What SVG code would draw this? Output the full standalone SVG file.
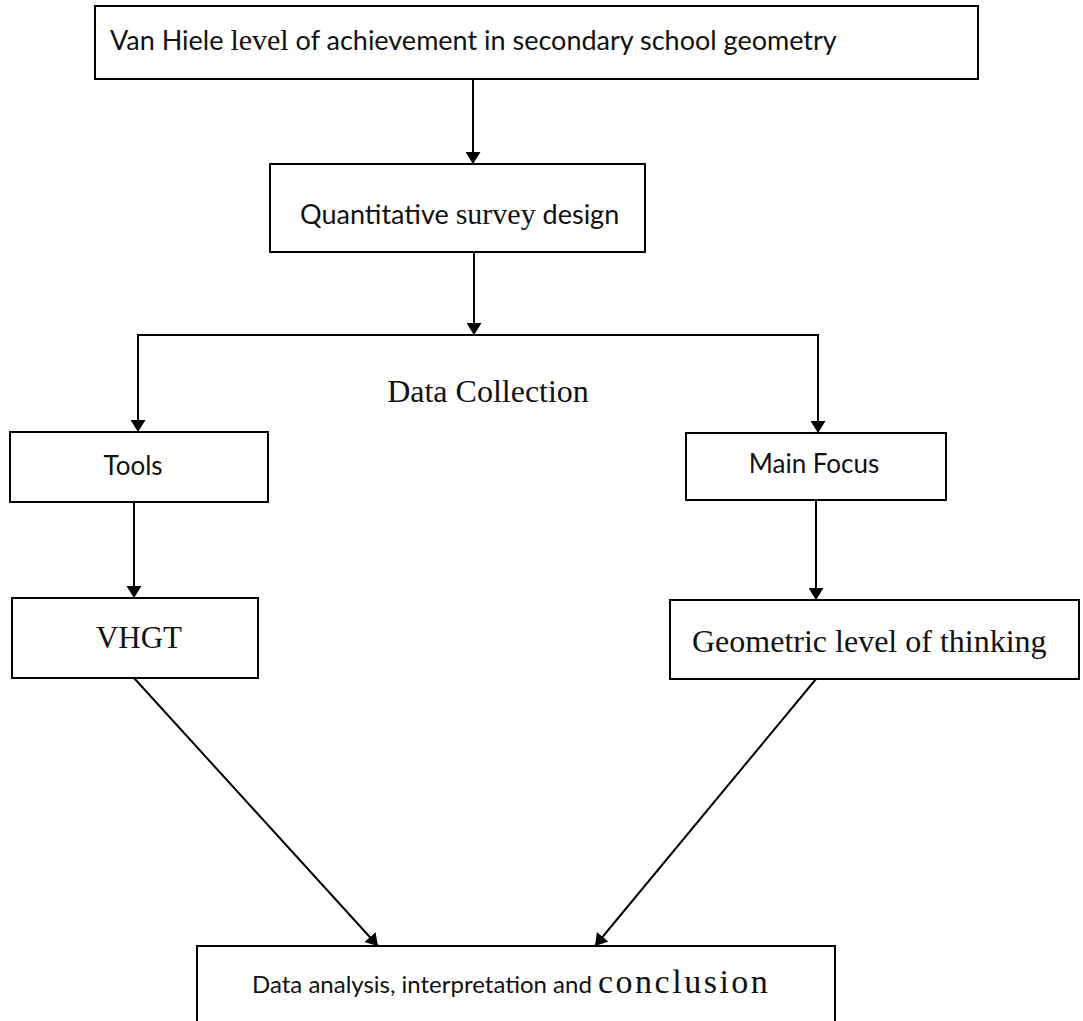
<svg xmlns="http://www.w3.org/2000/svg" width="1083" height="1021" viewBox="0 0 1083 1021">
<defs>
<marker id="ah" viewBox="0 0 12 15" refX="12" refY="7.5" markerWidth="12" markerHeight="15" markerUnits="userSpaceOnUse" orient="auto">
<path d="M0,0 L12,7.5 L0,15 Z" fill="#000"/>
</marker>
<style>
.box{fill:#fff;stroke:#000;stroke-width:2}
.sans{font-family:Lato,"Liberation Sans",sans-serif;font-size:26px;fill:#111}
.serif{font-family:"Liberation Serif",serif;font-size:32px;fill:#111}
.ser{font-family:"Liberation Serif",serif}
.con{fill:none;stroke:#000;stroke-width:2}
</style>
</defs>
<rect width="1083" height="1021" fill="#fff"/>
<g id="connectors">
<line class="con" x1="473" y1="79" x2="473" y2="164" marker-end="url(#ah)"/>
<line class="con" x1="474" y1="252" x2="474" y2="335" marker-end="url(#ah)"/>
<polyline class="con" points="138,432 138,335 818,335 818,433"/>
<line class="con" x1="138" y1="420" x2="138" y2="432" marker-end="url(#ah)"/>
<line class="con" x1="818" y1="420" x2="818" y2="433" marker-end="url(#ah)"/>
<line class="con" x1="134" y1="502" x2="134" y2="598" marker-end="url(#ah)"/>
<line class="con" x1="816" y1="500" x2="816" y2="600" marker-end="url(#ah)"/>
<line class="con" x1="134" y1="678" x2="378" y2="946" marker-end="url(#ah)"/>
<line class="con" x1="816" y1="679" x2="595" y2="946" marker-end="url(#ah)"/>
</g>
<g id="title">
<rect class="box" x="95" y="6" width="883" height="73"/>
<text class="sans" x="110" y="50" style="font-size:27px">Van Hiele <tspan class="ser" style="font-size:30px">level</tspan> of achievement in secondary school geometry</text>
</g>
<g id="quant">
<rect class="box" x="270" y="164" width="375" height="88"/>
<text class="sans" x="300" y="224" style="font-size:27px">Quantitative <tspan class="ser" style="font-size:30px">survey</tspan> design</text>
</g>
<g id="datacollection">
<text class="serif" x="488" y="402" text-anchor="middle">Data Collection</text>
</g>
<g id="tools">
<rect class="box" x="10" y="432" width="258" height="70"/>
<text class="sans" x="133" y="475" text-anchor="middle">Tools</text>
</g>
<g id="mainfocus">
<rect class="box" x="686" y="433" width="260" height="67"/>
<text class="sans" x="814" y="473" text-anchor="middle">Main Focus</text>
</g>
<g id="vhgt">
<rect class="box" x="12" y="598" width="246" height="80"/>
<text class="serif" x="139" y="648" text-anchor="middle" style="font-size:31px">VHGT</text>
</g>
<g id="geometric">
<rect class="box" x="670" y="600" width="409" height="79"/>
<text class="serif" x="692" y="652">Geometric level of thinking</text>
</g>
<g id="analysis">
<path class="box" d="M197,1023 L197,946 L835,946 L835,1023"/>
<text class="sans" x="252" y="993" style="font-size:24px">Data analysis, interpretation and <tspan class="ser" style="font-size:34px;letter-spacing:2.5px">conclusion</tspan></text>
</g>
</svg>
